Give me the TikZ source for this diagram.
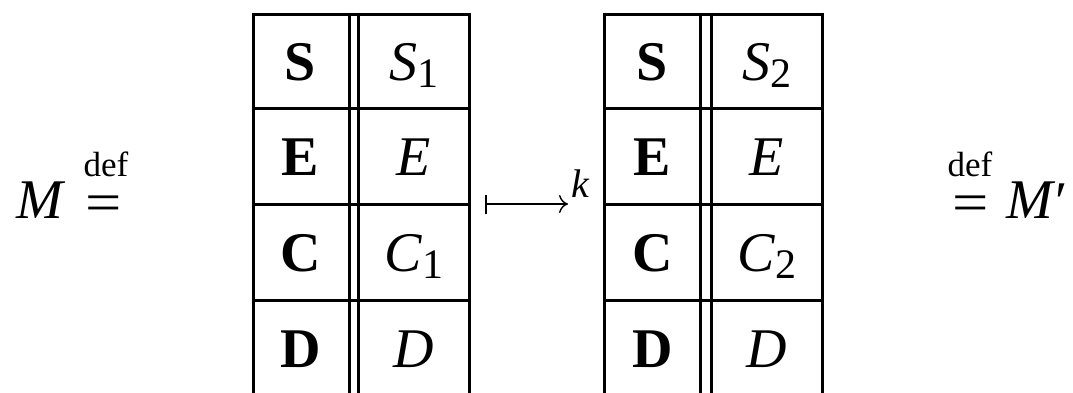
\documentclass[tikz,border=0pt]{standalone}
\usepackage{fontspec}
\setmainfont{Liberation Serif}
\usepackage{graphicx}
\usetikzlibrary{arrows.meta}
\newcommand{\bigfs}{\fontsize{56}{60}\selectfont}
\newcommand{\subfs}{\fontsize{42}{44}\selectfont}
\newcommand{\deffs}{\fontsize{35}{38}\selectfont}
\newcommand{\ital}[2]{\textit{#1}\raisebox{-7pt}{\subfs #2}}
\begin{document}
\begin{tikzpicture}[x=1pt,y=-1pt,
  txt/.style={font=\bigfs, inner sep=0pt, anchor=base},
  rule/.style={line width=3pt},
  maparrow/.style={line width=1.4pt}]
\useasboundingbox (0,0) rectangle (1073,392);
\begin{scope}
\clip (0,0) rectangle (1073,392);
% table 1
\foreach \x in {253.5,349.5,358.5,469.5} \draw[rule] (\x,12.5) -- (\x,400);
\foreach \y in {14,108,204,300} \draw[rule] (252,\y) -- (471,\y);
% table 2
\foreach \x in {604.5,700.5,711.5,822} \draw[rule] (\x,12.5) -- (\x,400);
\foreach \y in {14,108,204,300} \draw[rule] (603,\y) -- (823.5,\y);
\end{scope}
% table 1 texts
\node[txt] (a1) at (300.5,80) {\textbf{S}};
\node[txt] (b1) at (414,80) {\ital{S}{1}};
\node[txt] (a2) at (300.5,175.5) {\textbf{E}};
\node[txt] (b2) at (414,175.5) {\textit{E}};
\node[txt] (a3) at (300.5,271.5) {\textbf{C}};
\node[txt] (b3) at (414,271.5) {\ital{C}{1}};
\node[txt] (a4) at (300.5,367) {\textbf{D}};
\node[txt] (b4) at (414,367) {\textit{D}};
% table 2 texts
\node[txt] (c1) at (652.5,80) {\textbf{S}};
\node[txt] (d1) at (767,80) {\ital{S}{2}};
\node[txt] (c2) at (652.5,175.5) {\textbf{E}};
\node[txt] (d2) at (767,175.5) {\textit{E}};
\node[txt] (c3) at (652.5,271.5) {\textbf{C}};
\node[txt] (d3) at (767,271.5) {\ital{C}{2}};
\node[txt] (c4) at (652.5,367) {\textbf{D}};
\node[txt] (d4) at (767,367) {\textit{D}};
% left formula
\node[txt, anchor=base west] (M) at (16,218) {\textit{M}};
\node[txt] (eqL) at (103.5,221) {\smash{\scalebox{1.15}[1]{=}}};
\node[font=\deffs, inner sep=0pt, anchor=base] (defL) at (106,176) {def};
% right formula
\node[txt] (eqR) at (971,221) {\smash{\scalebox{1.15}[1]{=}}};
\node[font=\deffs, inner sep=0pt, anchor=base] (defR) at (970,176) {def};
\node[txt, anchor=base west] (Mp) at (1006,218) {\textit{M}\raisebox{-2pt}{′}};
% arrow
\coordinate (arrS) at (486,204);
\coordinate (arrE) at (568,204);
\draw[maparrow] ([yshift=-9.5pt]arrS) -- ([yshift=9.5pt]arrS);
\draw[maparrow, -{To[length=9pt,width=18pt]}] (arrS) -- (arrE);
\node[font=\fontsize{40}{44}\selectfont, inner sep=0pt, anchor=base west] (k) at (571,197) {\textit{k}};
\end{tikzpicture}
\end{document}
